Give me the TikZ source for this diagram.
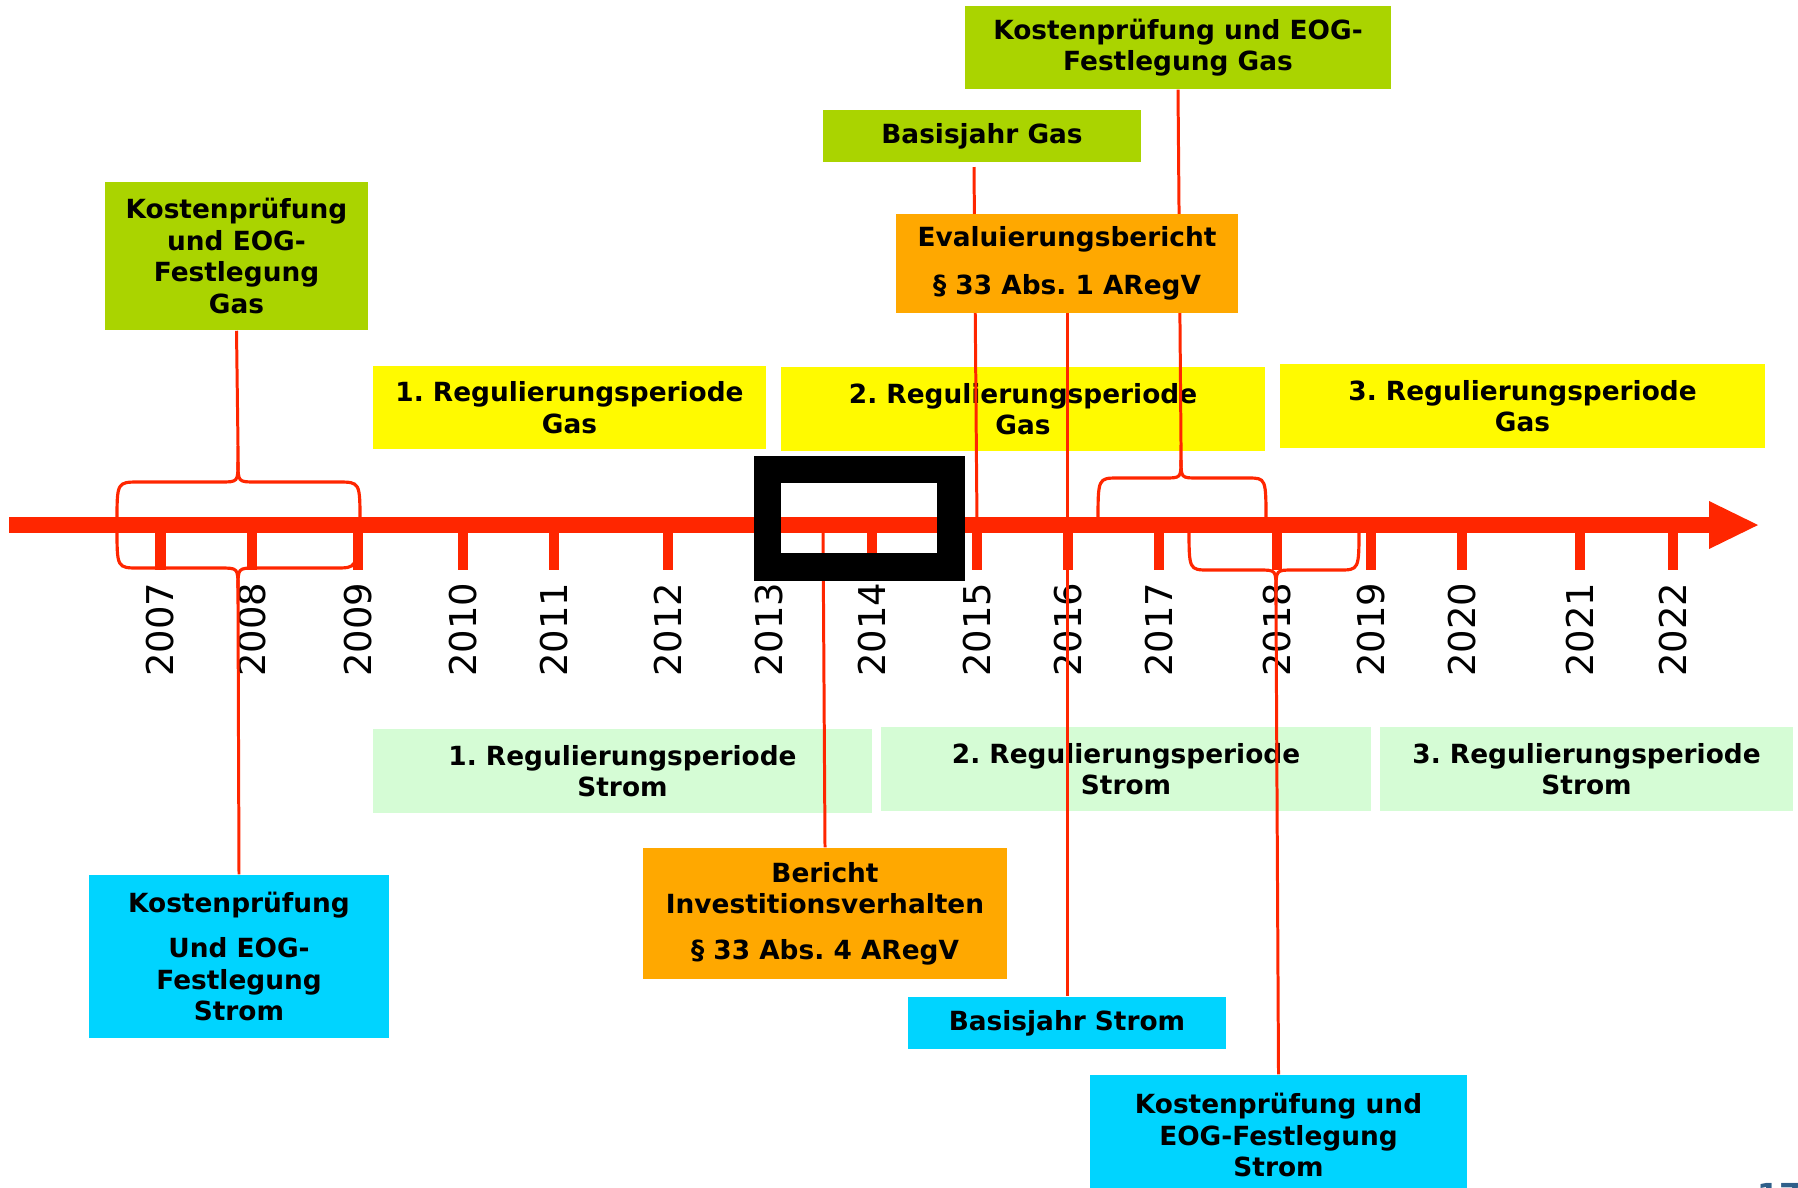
\documentclass[tikz,border=0pt]{standalone}
\usepackage{fontspec}
\setmainfont{DejaVu Sans}
\frenchspacing
\definecolor{axred}{RGB}{255,38,0}
\definecolor{kgreen}{RGB}{170,212,0}
\definecolor{kyellow}{RGB}{255,250,0}
\definecolor{korange}{RGB}{255,168,0}
\definecolor{klight}{RGB}{213,252,213}
\definecolor{kcyan}{RGB}{0,212,255}
\definecolor{pagecol}{RGB}{47,95,138}
\begin{document}
\begin{tikzpicture}[x=0.01cm,y=-0.01cm,
  box/.style={inner sep=0pt, align=center, text=black, font=\bfseries\fontsize{7.5}{8.96}\selectfont},
  conn/.style={draw=axred, line width=0.85pt},
  bracepath/.style={draw=axred, line width=0.9pt},
  yeartick/.style={draw=axred, line width=3pt},
  yrlabel/.style={rotate=90, anchor=east, inner sep=0pt, font=\fontsize{10.5}{12}\selectfont}]
\useasboundingbox (0,0) rectangle (1798,1187);

% period boxes (behind connectors)
\node[box, fill=kyellow, minimum width=3.93cm, minimum height=0.83cm] (g1) at (569.5,407.5) {1. Regulierungsperiode\\Gas};
\node[box, fill=kyellow, minimum width=4.84cm, minimum height=0.84cm] (g2) at (1023,409) {2. Regulierungsperiode\\Gas};
\node[box, fill=kyellow, minimum width=4.85cm, minimum height=0.84cm] (g3) at (1522.5,406) {3. Regulierungsperiode\\Gas};
\node[box, fill=klight, minimum width=4.99cm, minimum height=0.84cm] (s1) at (622.5,771) {1. Regulierungsperiode\\Strom};
\node[box, fill=klight, minimum width=4.90cm, minimum height=0.84cm] (s2) at (1126,769) {2. Regulierungsperiode\\Strom};
\node[box, fill=klight, minimum width=4.13cm, minimum height=0.84cm] (s3) at (1586.5,769) {3. Regulierungsperiode\\Strom};

% axis
\fill[axred] (9,517) rectangle (1712,533);
\fill[axred] (1709,501) -- (1758,525) -- (1709,549) -- cycle;
\foreach \yr/\tx in {2007/160.5,2008/252,2009/358,2010/463,2011/554,2012/668,2013/769,2014/872,2015/977,2016/1068,2017/1159,2018/1277,2019/1371,2020/1462,2021/1580,2022/1673}{
  \draw[yeartick] (\tx,525) -- (\tx,570);
  \node[yrlabel] (y\yr) at (\tx,582) {\yr};
}

% axis points and brace tips
\coordinate (a2015) at (977,525);
\coordinate (abericht) at (823,525);
\coordinate (bjgtop) at (974,167);
\coordinate (tipLU) at (238,446);
\coordinate (tipLL) at (238,604);
\coordinate (tipRU) at (1181,445);
\coordinate (tipRL) at (1276,605);

% braces
\draw[bracepath] (117,522) .. controls (117,482) .. (139,482) -- (220,482) .. controls (238,482) .. (238,462) -- (tipLU);
\draw[bracepath] (238,462) .. controls (238,482) .. (256,482) -- (338,482) .. controls (360,482) .. (360,522);
\draw[bracepath] (117,528) .. controls (117,568) .. (139,568) -- (220,568) .. controls (238,568) .. (238,588) -- (tipLL);
\draw[bracepath] (238,588) .. controls (238,568) .. (256,568) -- (335,568) .. controls (357,568) .. (357,528);
\draw[bracepath] (1098,522) .. controls (1098,478) .. (1118,478) -- (1164,478) .. controls (1181,478) .. (1181,460) -- (tipRU);
\draw[bracepath] (1181,460) .. controls (1181,478) .. (1198,478) -- (1248,478) .. controls (1266,478) .. (1266,522);
\draw[bracepath] (1189,528) .. controls (1189,570) .. (1209,570) -- (1259,570) .. controls (1276,570) .. (1276,590) -- (tipRL);
\draw[bracepath] (1276,590) .. controls (1276,570) .. (1293,570) -- (1339,570) .. controls (1359,570) .. (1359,528);

% event boxes
\node[box, fill=kgreen, minimum width=2.63cm, minimum height=1.48cm] (kgL) at (236.5,256) {Kostenprüfung\\und EOG-\\Festlegung\\Gas};
\node[box, fill=kgreen, minimum width=4.26cm, minimum height=0.83cm] (kgT) at (1178,47.5) {Kostenprüfung und EOG-\\Festlegung Gas};
\node[box, fill=kgreen, minimum width=3.18cm, minimum height=0.52cm] (bjg) at (982,136) {Basisjahr Gas};
\node[box, fill=kcyan, minimum width=3.00cm, minimum height=1.63cm] (ksL) at (239,956.5) {Kostenprüfung\\[4pt]Und EOG-\\Festlegung\\Strom};
\node[box, fill=kcyan, minimum width=3.18cm, minimum height=0.52cm] (bjs) at (1067,1023) {Basisjahr Strom};
\node[box, fill=kcyan, minimum width=3.77cm, minimum height=1.20cm] (ksR) at (1278.5,1135) {Kostenprüfung und\\EOG-Festlegung\\Strom};

% connectors
\draw[conn] (kgL.south) -- (tipLU);
\draw[conn] (ksL.north) -- (tipLL);
\draw[conn] (bjgtop) -- (a2015);
\draw[conn] (kgT.south) -- (tipRU);
\draw[conn] (ksR.north) -- (tipRL);
\node[box, fill=korange, minimum width=3.64cm, minimum height=1.31cm] (ber) at (825,913.5) {Bericht\\Investitionsverhalten\\[4pt]§ 33 Abs. 4 ARegV};
\draw[conn] (ber.north) -- (abericht);
\draw[conn] (1067,313) -- (bjs.north);
\node[box, fill=korange, minimum width=3.42cm, minimum height=0.99cm] (eval) at (1067,263.5) {Evaluierungsbericht\\[4.6pt]§ 33 Abs. 1 ARegV};

% highlight frame
\draw[black, line width=7.7pt] (767.5,469.5) rectangle (951,567);

% page number (cut off at the lower edge, as in the reference)
\node[anchor=north west, inner sep=0pt, text=pagecol, font=\bfseries\fontsize{9}{10}\selectfont] (pg) at (1757,1183) {17};
\end{tikzpicture}
\end{document}
